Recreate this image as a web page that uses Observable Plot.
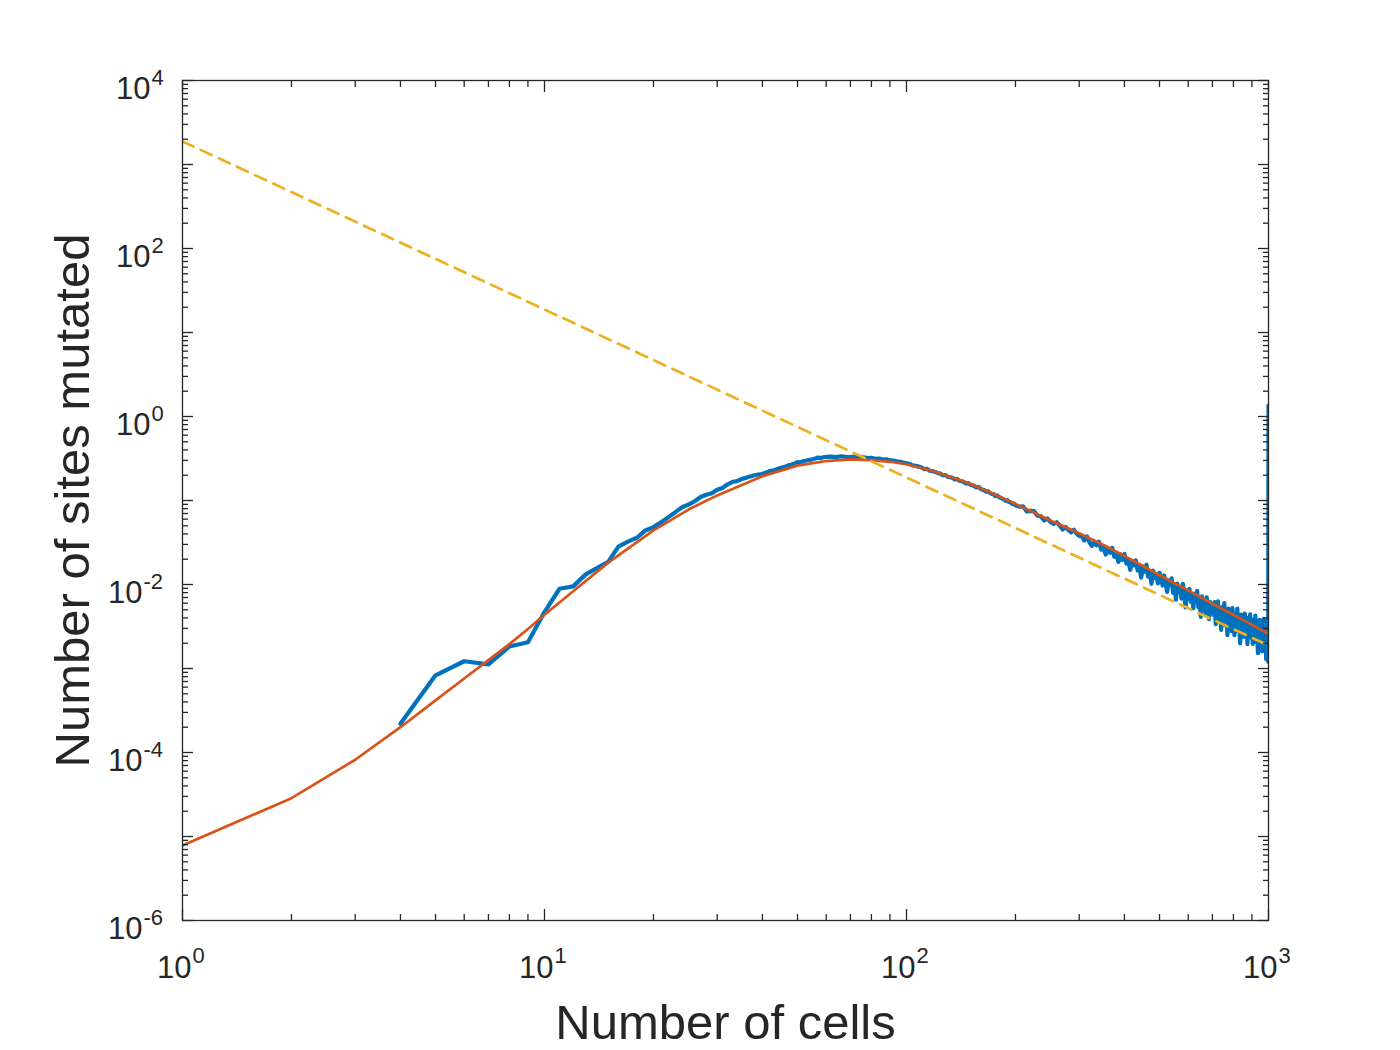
<!DOCTYPE html>
<html>
<head>
<meta charset="utf-8">
<script src="https://cdn.jsdelivr.net/npm/d3@7"></script>
<script src="https://cdn.jsdelivr.net/npm/@observablehq/plot@0.6"></script>
<style>
  html, body { margin: 0; padding: 0; background: #ffffff; }
  #chart { width: 1400px; height: 1050px; }
</style>
</head>
<body>
<div id="chart"></div>
<script>
// ---------- data ----------
const blueX = [
  4,5,6,7,8,9,10,11,12,13,14,15,16,17,18,19,20,21,22,23,24,25,26,27,28,29,30,
  31,32,33,34,35,36,37,38,39,40,41,42,43,44,45,46,47,48,49,50,51,52,53,54,55,56,57,58,59,60,
  62,64,66,68,70,72,74,76,78,80,82,84,86,88,90,92,94,96,98,100,
  102,104,106,108,110,112,114,116,118,120,122,124,126,128,130,132,134,136,138,140,
  142,144,146,148,150,152,154,156,158,160,162,164,166,168,170,172,174,176,178,180,
  182,184,186,188,190,192,194,196,198,200,
  205,210,215,220,225,230,235,240,245,250,255,260,265,270,275,280,285,290,295,300,
  305,310,315,320,325,330,335,340,345,350,355,360,365,370,375,380,385,390,395,400,
  405,410,415,420,425,430,435,440,445,450,455,460,465,470,475,480,485,490,495,500,
  505,510,515,520,525,530,535,540,545,550,555,560,565,570,575,580,585,590,595,600,
  605,610,615,620,625,630,635,640,645,650,655,660,665,670,675,680,685,690,695,700,
  705,710,715,720,725,730,735,740,745,750,755,760,765,770,775,780,785,790,795,800,
  805,810,815,820,825,830,835,840,845,850,855,860,865,870,875,880,885,890,895,900,
  905,910,915,920,925,930,935,940,945,950,955,960,965,970,975,980,985,990,995,998,1000
];
const blueY = [
  2.2e-4,8.3e-4,1.22e-3,1.12e-3,1.83e-3,2.05e-3,4.7e-3,8.9e-3,9.5e-3,1.32e-2,1.58e-2,1.86e-2,2.82e-2,3.24e-2,3.6e-2,4.4e-2,4.82e-2,5.52e-2,6.34e-2,7.26e-2,8.32e-2,8.95e-2,9.8e-2,0.110,0.117,0.122,0.134,
  0.141,0.155,0.166,0.170,0.180,0.186,0.193,0.200,0.204,0.207,0.216,0.224,0.229,0.237,0.245,0.251,0.260,0.266,0.275,0.286,0.285,0.295,0.299,0.305,0.309,0.316,0.324,0.320,0.327,0.331,
  0.333,0.328,0.336,0.330,0.328,0.334,0.325,0.327,0.320,0.322,0.314,0.316,0.307,0.309,0.300,0.298,0.292,0.289,0.283,0.278,
  0.272,0.262,0.259,0.253,0.247,0.236,0.238,0.226,0.224,0.219,0.213,0.209,0.200,0.201,0.192,0.189,0.186,0.178,0.180,0.172,
  0.170,0.166,0.159,0.161,0.155,0.152,0.149,0.143,0.145,0.139,0.134,0.133,0.127,0.129,0.123,0.120,0.119,0.113,0.115,0.110,
  0.108,0.105,0.103,0.099,0.101,0.096,0.095,0.091,0.092,0.088,
  0.0845,0.0849,0.0740,0.0752,0.0748,0.0658,0.0651,0.0577,0.0611,0.0555,0.0525,0.0551,0.0504,0.0452,0.0485,0.0446,0.0417,0.0450,0.0405,0.0379,
  0.0373,0.0334,0.0374,0.0320,0.0288,0.0322,0.0293,0.0323,0.0260,0.0272,0.0227,0.0270,0.0238,0.0272,0.0214,0.0225,0.0186,0.0229,0.0196,0.0232,
  0.0177,0.0195,0.0149,0.0189,0.0169,0.0193,0.0147,0.0160,0.0121,0.0164,0.0142,0.0172,0.0124,0.0141,0.0102,0.0146,0.0120,0.0132,0.0103,0.0138,
  0.01171,0.00972,0.01281,0.01015,0.00818,0.01111,0.00986,0.01185,0.00795,0.00947,0.00659,0.01028,0.00819,0.00918,0.00681,0.01019,0.00780,0.00533,0.00852,0.00680,
  0.00885,0.00623,0.00733,0.00521,0.00776,0.00640,0.00838,0.00537,0.00671,0.00411,0.00724,0.00560,0.00644,0.00455,0.00705,0.00552,0.00387,0.00618,0.00475,0.00555,
  0.00436,0.00619,0.00338,0.00512,0.00629,0.00377,0.00467,0.00288,0.00542,0.00406,0.00600,0.00325,0.00462,0.00249,0.00518,0.00362,0.00443,0.00280,0.00524,0.00371,
  0.00250,0.00434,0.00310,0.00516,0.00277,0.00362,0.00199,0.00438,0.00317,0.00380,0.00240,0.00451,0.00277,0.00342,0.00195,0.00403,0.00290,0.00442,0.00235,0.00305,
  0.00196,0.00381,0.00249,0.00425,0.00205,0.00323,0.00152,0.00264,0.00380,0.00211,0.00319,0.00160,0.00269,0.00391,0.00188,0.00326,0.00129,0.00266,0.00380,0.00120,1.35
];

const fitX = [1,2,3,4,5,6,7,8,9,10,12,15,20,25,30,40,50,60,70,80,90,100,120,150,200,250,300,350,400,450,500,600,700,800,900,1000];
const fitY = [7.8e-6,2.86e-5,8.2e-5,2.0e-4,4.17e-4,7.6e-4,1.26e-3,1.95e-3,2.95e-3,4.37e-3,8.3e-3,1.82e-2,4.4e-2,7.8e-2,0.115,0.195,0.260,0.295,0.308,0.303,0.289,0.270,0.220,0.158,0.0912,0.0578,0.0407,0.0295,0.0219,0.0166,0.0129,8.5e-3,5.9e-3,4.37e-3,3.31e-3,2.59e-3];

const tailX = [1, 1000];
const tailY = [1880, 0.00188];

const xTickValues = [1, 10, 100, 1000];
const xTickExp = ["0", "1", "2", "3"];
const yDecades = [1e-6, 1e-5, 1e-4, 1e-3, 1e-2, 1e-1, 1, 10, 100, 1e3, 1e4];
const yTickValues = [1e-6, 1e-4, 1e-2, 1, 100, 1e4];
const yTickExp = ["-6", "-4", "-2", "0", "2", "4"];

const xLabel = "Number of cells";
const yLabel = "Number of sites mutated";

// ---------- build ----------
const xDomain = [1, 1000];
const yDomain = [1e-6, 1e4];
const axisColor = "#262626";
const font = "'Liberation Sans', Arial, Helvetica, sans-serif";

const blue = blueX.map((x, i) => ({x, y: blueY[i]}));
const fit = fitX.map((x, i) => ({x, y: fitY[i]}));
const tail = tailX.map((x, i) => ({x, y: tailY[i]}));

const minorX = d3.scaleLog().domain(xDomain).ticks().filter(t => !xTickValues.some(d => Math.abs(t / d - 1) < 1e-9));
const minorY = d3.scaleLog().domain(yDomain).ticks(40).filter(t => !yDecades.some(d => Math.abs(t / d - 1) < 1e-9));

const yRows = yTickValues.map((v, i) => ({v, e: yTickExp[i]}));
const yNeg = yRows.filter(r => r.e.startsWith("-"));
const yPos = yRows.filter(r => !r.e.startsWith("-"));

const tickStyle = {stroke: axisColor, strokeWidth: 1.3, tickFormat: () => "", label: null};

const chart = Plot.plot({
  width: 1400,
  height: 1050,
  marginLeft: 182,
  marginRight: 132,
  marginTop: 80,
  marginBottom: 130,
  style: {fontFamily: font, background: "#ffffff", color: axisColor},
  x: {type: "log", domain: xDomain},
  y: {type: "log", domain: yDomain},
  marks: [
    Plot.line(blue, {x: "x", y: "y", stroke: "#0072BD", strokeWidth: 4.2, strokeLinejoin: "round", clip: true}),
    Plot.line(fit, {x: "x", y: "y", stroke: "#D95319", strokeWidth: 2.7, clip: true}),
    Plot.line(tail, {x: "x", y: "y", stroke: "#EDB120", strokeWidth: 2.7, strokeDasharray: "12,8", clip: true}),
    Plot.frame({stroke: axisColor, strokeWidth: 1.3}),
    // ticks (inward, all four sides)
    Plot.axisX(xTickValues, {anchor: "bottom", tickSize: -11, ...tickStyle}),
    Plot.axisX(minorX, {anchor: "bottom", tickSize: -6, ...tickStyle}),
    Plot.axisX(xTickValues, {anchor: "top", tickSize: -11, ...tickStyle}),
    Plot.axisX(minorX, {anchor: "top", tickSize: -6, ...tickStyle}),
    Plot.axisY(yDecades, {anchor: "left", tickSize: -11, ...tickStyle}),
    Plot.axisY(minorY, {anchor: "left", tickSize: -6, ...tickStyle}),
    Plot.axisY(yDecades, {anchor: "right", tickSize: -11, ...tickStyle}),
    Plot.axisY(minorY, {anchor: "right", tickSize: -6, ...tickStyle}),
    // x tick labels 10^k
    Plot.text(xTickValues, {x: d => d, text: () => "10", frameAnchor: "bottom", textAnchor: "end", lineAnchor: "bottom", dx: 9, dy: 57, fontSize: 31, fill: axisColor}),
    Plot.text(xTickValues, {x: d => d, text: (d, i) => xTickExp[i], frameAnchor: "bottom", textAnchor: "start", lineAnchor: "bottom", dx: 10, dy: 42, fontSize: 22, fill: axisColor}),
    // y tick labels 10^k
    Plot.text(yNeg, {y: "v", text: () => "10", frameAnchor: "left", textAnchor: "end", lineAnchor: "bottom", dx: -40, dy: 18, fontSize: 31, fill: axisColor}),
    Plot.text(yNeg, {y: "v", text: "e", frameAnchor: "left", textAnchor: "start", lineAnchor: "bottom", dx: -39, dy: 4, fontSize: 22, fill: axisColor}),
    Plot.text(yPos, {y: "v", text: () => "10", frameAnchor: "left", textAnchor: "end", lineAnchor: "bottom", dx: -32, dy: 18, fontSize: 31, fill: axisColor}),
    Plot.text(yPos, {y: "v", text: "e", frameAnchor: "left", textAnchor: "start", lineAnchor: "bottom", dx: -31, dy: 4, fontSize: 22, fill: axisColor}),
    // axis titles
    Plot.text([xLabel], {text: d => d, frameAnchor: "bottom", textAnchor: "middle", lineAnchor: "bottom", dy: 118, fontSize: 49, fill: axisColor}),
    Plot.text([yLabel], {text: d => d, frameAnchor: "left", textAnchor: "middle", rotate: -90, lineAnchor: "bottom", dx: -94, fontSize: 49, fill: axisColor})
  ]
});

document.getElementById("chart").appendChild(chart);
</script>
</body>
</html>
